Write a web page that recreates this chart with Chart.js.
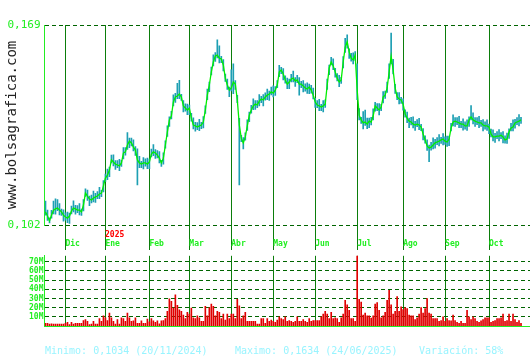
<!DOCTYPE html>
<html>
<head>
<meta charset="utf-8">
<script src="https://cdn.jsdelivr.net/npm/chart.js@4.4.1/dist/chart.umd.min.js"></script>
<style>
  body { margin: 0; background: #fff; width: 530px; height: 360px; overflow: hidden; position: relative; font-family: 'DejaVu Sans Mono', monospace; }
  #wrapPrice { position: absolute; left: 0; top: 0; width: 530px; height: 250px; }
  #wrapVol { position: absolute; left: 0; top: 250px; width: 530px; height: 110px; }
  #site { position: absolute; left: -74px; top: 117px; width: 170px; height: 16px; line-height: 16px; text-align: center;
          font-size: 14px; color: #222; transform: rotate(-90deg); white-space: nowrap; }
  #year { position: absolute; left: 105px; top: 231px; font: bold 8px 'DejaVu Sans Mono', monospace; line-height: 8px; color: #ff0000; }
  .stat { position: absolute; top: 346px; font-size: 10px; line-height: 10px; color: #99f4ff; white-space: pre; }
</style>
</head>
<body>
<div id="wrapPrice"><canvas id="priceChart"></canvas></div>
<div id="wrapVol"><canvas id="volChart"></canvas></div>
<div id="site">www.bolsagrafica.com</div>
<div id="year">2025</div>
<div class="stat" style="left:45px">Minimo: 0,1034 (20/11/2024)</div>
<div class="stat" style="left:235px">Maximo: 0,1634 (24/06/2025)</div>
<div class="stat" style="left:419px">Variación: 58%</div>
<script>
// months shown on the axis and how many trading sessions each one holds
const months = ['Nov', 'Dic', 'Ene', 'Feb', 'Mar', 'Abr', 'May', 'Jun', 'Jul', 'Ago', 'Sep', 'Oct'];
const monthDays = [10, 20, 22, 20, 21, 21, 21, 21, 23, 21, 22, 21];

const priceTicks = [0.102, 0.169];
const volTicks = [10, 20, 30, 40, 50, 60, 70];

// daily close, high and low
const close = [
  0.1064,0.1050,0.1034,0.1053,0.1070,0.1074,0.1077,0.1070,0.1064,0.1053,
  0.1047,0.1043,0.1050,0.1067,0.1077,0.1074,0.1070,0.1070,0.1064,0.1087,
  0.1127,0.1117,0.1107,0.1104,0.1110,0.1114,0.1117,0.1124,0.1127,0.1151,
  0.1177,0.1187,0.1204,0.1238,0.1231,0.1224,0.1221,0.1218,0.1228,0.1261,
  0.1265,0.1288,0.1301,0.1295,0.1281,0.1271,0.1238,0.1228,0.1224,0.1228,
  0.1228,0.1224,0.1231,0.1258,0.1265,0.1261,0.1254,0.1244,0.1228,0.1244,
  0.1288,0.1332,0.1372,0.1385,0.1432,0.1449,0.1452,0.1459,0.1449,0.1419,
  0.1412,0.1405,0.1412,0.1378,0.1355,0.1352,0.1348,0.1352,0.1355,0.1365,
  0.1405,0.1455,0.1489,0.1533,0.1566,0.1586,0.1589,0.1579,0.1576,0.1556,
  0.1512,0.1489,0.1472,0.1479,0.1499,0.1492,0.1439,0.1355,0.1311,0.1295,
  0.1315,0.1352,0.1388,0.1405,0.1419,0.1425,0.1422,0.1435,0.1442,0.1439,
  0.1449,0.1455,0.1459,0.1466,0.1462,0.1472,0.1489,0.1533,0.1539,0.1526,
  0.1506,0.1492,0.1499,0.1509,0.1512,0.1502,0.1506,0.1492,0.1492,0.1486,
  0.1479,0.1476,0.1482,0.1472,0.1455,0.1432,0.1422,0.1419,0.1415,0.1419,
  0.1425,0.1489,0.1546,0.1566,0.1553,0.1533,0.1512,0.1499,0.1506,0.1566,
  0.1616,0.1634,0.1600,0.1579,0.1573,0.1589,0.1472,0.1388,0.1372,0.1362,
  0.1365,0.1358,0.1368,0.1365,0.1385,0.1419,0.1412,0.1405,0.1415,0.1449,
  0.1455,0.1479,0.1533,0.1586,0.1539,0.1479,0.1449,0.1442,0.1439,0.1425,
  0.1392,0.1378,0.1368,0.1365,0.1358,0.1355,0.1358,0.1355,0.1348,0.1325,
  0.1305,0.1285,0.1278,0.1281,0.1288,0.1295,0.1298,0.1301,0.1305,0.1308,
  0.1301,0.1298,0.1308,0.1345,0.1365,0.1368,0.1365,0.1362,0.1358,0.1358,
  0.1352,0.1352,0.1372,0.1382,0.1372,0.1368,0.1365,0.1362,0.1362,0.1355,
  0.1352,0.1352,0.1348,0.1325,0.1315,0.1315,0.1318,0.1318,0.1321,0.1315,
  0.1305,0.1308,0.1332,0.1345,0.1348,0.1362,0.1365,0.1368,0.1372
];
const high = [
  0.1100,0.1070,0.1044,0.1069,0.1100,0.1108,0.1105,0.1092,0.1073,0.1071,
  0.1061,0.1063,0.1060,0.1083,0.1101,0.1086,0.1085,0.1092,0.1073,0.1105,
  0.1141,0.1137,0.1117,0.1120,0.1134,0.1126,0.1132,0.1146,0.1136,0.1169,
  0.1191,0.1207,0.1214,0.1254,0.1255,0.1236,0.1236,0.1240,0.1237,0.1279,
  0.1279,0.1330,0.1311,0.1311,0.1305,0.1283,0.1275,0.1250,0.1233,0.1246,
  0.1242,0.1244,0.1241,0.1274,0.1289,0.1273,0.1269,0.1266,0.1237,0.1262,
  0.1302,0.1352,0.1382,0.1401,0.1456,0.1461,0.1495,0.1505,0.1458,0.1437,
  0.1426,0.1425,0.1422,0.1394,0.1379,0.1364,0.1363,0.1374,0.1364,0.1383,
  0.1419,0.1475,0.1499,0.1549,0.1590,0.1598,0.1640,0.1620,0.1585,0.1574,
  0.1526,0.1509,0.1482,0.1540,0.1560,0.1504,0.1454,0.1377,0.1320,0.1313,
  0.1329,0.1372,0.1398,0.1421,0.1443,0.1437,0.1437,0.1457,0.1451,0.1457,
  0.1463,0.1475,0.1469,0.1482,0.1486,0.1484,0.1504,0.1555,0.1548,0.1544,
  0.1520,0.1512,0.1509,0.1525,0.1536,0.1514,0.1521,0.1514,0.1501,0.1504,
  0.1493,0.1496,0.1492,0.1488,0.1479,0.1444,0.1437,0.1441,0.1424,0.1437,
  0.1439,0.1509,0.1556,0.1582,0.1577,0.1545,0.1527,0.1521,0.1515,0.1584,
  0.1645,0.1657,0.1610,0.1595,0.1597,0.1601,0.1560,0.1410,0.1381,0.1400,
  0.1405,0.1378,0.1378,0.1381,0.1409,0.1431,0.1427,0.1427,0.1424,0.1467,
  0.1469,0.1499,0.1560,0.1663,0.1575,0.1491,0.1464,0.1464,0.1448,0.1443,
  0.1406,0.1398,0.1378,0.1381,0.1382,0.1367,0.1373,0.1377,0.1357,0.1343,
  0.1319,0.1305,0.1288,0.1297,0.1312,0.1307,0.1313,0.1323,0.1314,0.1326,
  0.1315,0.1318,0.1318,0.1361,0.1389,0.1380,0.1380,0.1384,0.1367,0.1376,
  0.1366,0.1372,0.1382,0.1420,0.1396,0.1380,0.1380,0.1384,0.1371,0.1373,
  0.1366,0.1372,0.1358,0.1341,0.1339,0.1327,0.1333,0.1340,0.1330,0.1333,
  0.1319,0.1328,0.1342,0.1361,0.1372,0.1374,0.1380,0.1390,0.1381
];
const low = [
  0.1053,0.1035,0.1027,0.1043,0.1057,0.1056,0.1068,0.1054,0.1052,0.1033,
  0.1036,0.1028,0.1025,0.1057,0.1064,0.1056,0.1061,0.1054,0.1052,0.1067,
  0.1116,0.1102,0.1085,0.1094,0.1097,0.1096,0.1108,0.1108,0.1115,0.1131,
  0.1166,0.1172,0.1182,0.1228,0.1218,0.1206,0.1212,0.1202,0.1216,0.1241,
  0.1254,0.1273,0.1279,0.1285,0.1268,0.1253,0.1154,0.1212,0.1212,0.1208,
  0.1217,0.1209,0.1209,0.1248,0.1252,0.1243,0.1245,0.1228,0.1216,0.1224,
  0.1277,0.1317,0.1350,0.1375,0.1419,0.1431,0.1443,0.1443,0.1437,0.1399,
  0.1401,0.1390,0.1390,0.1368,0.1342,0.1334,0.1339,0.1336,0.1343,0.1345,
  0.1394,0.1440,0.1467,0.1523,0.1553,0.1568,0.1580,0.1563,0.1564,0.1536,
  0.1501,0.1474,0.1450,0.1469,0.1460,0.1474,0.1430,0.1154,0.1299,0.1275,
  0.1304,0.1337,0.1366,0.1395,0.1406,0.1407,0.1413,0.1419,0.1430,0.1419,
  0.1438,0.1440,0.1437,0.1456,0.1449,0.1454,0.1480,0.1517,0.1527,0.1506,
  0.1495,0.1477,0.1477,0.1499,0.1499,0.1484,0.1497,0.1455,0.1480,0.1466,
  0.1468,0.1461,0.1460,0.1462,0.1442,0.1414,0.1413,0.1403,0.1403,0.1399,
  0.1414,0.1474,0.1524,0.1556,0.1540,0.1515,0.1503,0.1483,0.1494,0.1546,
  0.1598,0.1612,0.1578,0.1569,0.1560,0.1571,0.1440,0.1372,0.1360,0.1342,
  0.1354,0.1343,0.1346,0.1355,0.1372,0.1401,0.1403,0.1389,0.1403,0.1429,
  0.1444,0.1464,0.1511,0.1560,0.1526,0.1461,0.1440,0.1426,0.1427,0.1405,
  0.1381,0.1363,0.1346,0.1355,0.1345,0.1337,0.1349,0.1339,0.1336,0.1305,
  0.1294,0.1270,0.1232,0.1271,0.1275,0.1277,0.1289,0.1285,0.1293,0.1288,
  0.1290,0.1283,0.1286,0.1335,0.1352,0.1350,0.1356,0.1346,0.1346,0.1338,
  0.1341,0.1337,0.1350,0.1372,0.1359,0.1350,0.1356,0.1346,0.1350,0.1335,
  0.1341,0.1337,0.1326,0.1315,0.1302,0.1297,0.1309,0.1302,0.1309,0.1295,
  0.1294,0.1293,0.1310,0.1335,0.1335,0.1344,0.1356,0.1352,0.1360
];
// daily volume, millions of shares
const volumeM = [
  3, 3, 2, 2.5, 2, 2, 2, 2, 2, 2,
  3, 4, 1.5, 4, 2, 3, 3, 3, 3, 6,
  7, 5, 1.5, 2, 5, 2, 2, 8, 5, 11,
  9, 6, 14, 9, 5, 2, 7, 2, 9, 8,
  5, 14, 9, 5, 5.5, 9, 3, 3, 5.5, 3,
  3, 7.5, 4.5, 8, 5.5, 4, 5.5, 2.5, 5.5, 6,
  8, 16, 29.5, 27, 19.5, 34, 22.5, 17.5, 16, 12,
  8, 15, 13, 19.5, 9, 8, 11, 9, 5, 5,
  21.5, 11, 20, 24, 21.5, 11, 16, 15, 8, 13,
  6.5, 13, 8, 13, 13, 8, 29, 22, 8, 11,
  15, 5, 5, 5, 5, 5, 2, 2, 8, 8,
  3, 8, 5, 6.5, 5, 4, 6.5, 10, 8, 7,
  10, 5, 6, 5, 4, 5, 10, 5, 5, 7,
  5, 4, 8, 5, 6, 6, 6, 6, 10, 13,
  16, 13, 8, 15, 8, 9, 8, 4, 9, 13,
  28, 23, 17, 8, 8, 5, 80, 29, 26, 12,
  14, 11, 11, 8.5, 11, 24, 25.5, 17, 9, 11,
  15, 28, 39, 23, 13, 16, 32, 16, 21, 18,
  20, 19, 12, 11, 11, 7, 9, 13, 20, 14,
  19, 30, 14, 13, 8, 8, 8, 5, 6, 10,
  5, 8, 6, 5.5, 12, 6, 4, 3, 5, 3,
  3, 17, 10, 7, 10, 8, 5, 4, 5.5, 7,
  9, 9, 9, 4, 5, 6, 8, 8, 9, 13,
  5, 6, 13, 5, 13, 7, 4, 6, 3
];

// one category per session, month lines where a month begins
const dayLabels = [];
const monthStarts = [];
months.forEach((m, k) => {
  if (k > 0) monthStarts.push(dayLabels.length);
  for (let d = 0; d < monthDays[k]; d++) dayLabels.push(m);
});

const GREEN = '#22ee22';
const MONTH_LINE = '#0b7d0b';
const DASH_LINE = '#006400';
const MONO = 'DejaVu Sans Mono';

const monthTicks = s => { s.ticks = monthStarts.map(v => ({ value: v })); };

// ─── Price panel ────────────────────────────────────────────────────────────
new Chart(document.getElementById('priceChart'), {
  type: 'bar',
  data: {
    labels: dayLabels,
    datasets: [
      { type: 'line', data: close, borderColor: '#00ee00', borderWidth: 1.3, pointRadius: 0, order: 0 },
      { data: low.map((l, i) => [l, high[i]]), backgroundColor: '#1d9fb3', barThickness: 1, order: 1 },
    ],
  },
  options: {
    responsive: true,
    maintainAspectRatio: false,
    animation: false,
    devicePixelRatio: 1,
    layout: { padding: { top: 25, right: 0, bottom: 0, left: 0 } },
    plugins: { legend: { display: false }, tooltip: { enabled: false } },
    scales: {
      x: {
        afterFit: s => { s.height = 25; },
        afterBuildTicks: monthTicks,
        grid: { color: MONTH_LINE, offset: false, tickLength: 25 },
        border: { display: false },
        ticks: {
          autoSkip: false, maxRotation: 0, align: 'start', padding: -11,
          color: GREEN, font: { family: MONO, size: 8, weight: 'bold' },
          callback: v => dayLabels[v],
        },
      },
      y: {
        min: priceTicks[0],
        max: priceTicks[1],
        afterFit: s => { s.width = 44.5; },
        afterBuildTicks: s => { s.ticks = priceTicks.map(v => ({ value: v })); },
        grid: { color: DASH_LINE, drawTicks: false },
        border: { color: GREEN, dash: [4, 3] },
        ticks: {
          autoSkip: false, color: GREEN, padding: 4, font: { family: MONO, size: 11 },
          callback: v => v.toFixed(3).replace('.', ','),
        },
      },
    },
  },
});

// ─── Volume panel ───────────────────────────────────────────────────────────
new Chart(document.getElementById('volChart'), {
  type: 'bar',
  data: {
    labels: dayLabels,
    datasets: [{ data: volumeM, backgroundColor: '#e00000', barThickness: 1 }],
  },
  options: {
    responsive: true,
    maintainAspectRatio: false,
    animation: false,
    devicePixelRatio: 1,
    layout: { padding: 0 },
    plugins: { legend: { display: false }, tooltip: { enabled: false } },
    scales: {
      x: {
        afterFit: s => { s.height = 34; },
        afterBuildTicks: monthTicks,
        grid: { color: MONTH_LINE, offset: false, drawTicks: false },
        border: { color: GREEN },
        ticks: { display: false, autoSkip: false },
      },
      y: {
        min: 0,
        max: 76.5,
        afterFit: s => { s.width = 44.5; },
        afterBuildTicks: s => { s.ticks = volTicks.map(v => ({ value: v })); },
        grid: { color: DASH_LINE, drawTicks: false },
        border: { color: GREEN, dash: [4, 3] },
        ticks: {
          autoSkip: false, color: GREEN, padding: 1, font: { family: MONO, size: 8, weight: 'bold' },
          callback: v => v + 'M',
        },
      },
    },
  },
});
</script>
</body>
</html>
